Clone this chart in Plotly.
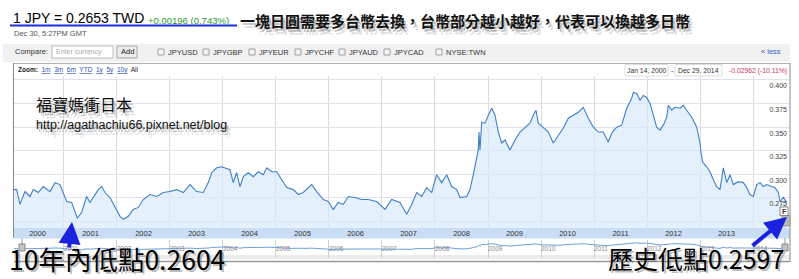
import plotly.graph_objects as go

# ---------------- data ----------------
years = [2000.057, 2000.108, 2000.170, 2000.264, 2000.358, 2000.421, 2000.515, 2000.609, 2000.736, 2000.830,
         2000.925, 2000.987, 2001.051, 2001.145, 2001.208, 2001.251, 2001.334, 2001.428, 2001.491, 2001.585,
         2001.647, 2001.711, 2001.774, 2001.868, 2001.962, 2002.057, 2002.119, 2002.213, 2002.308, 2002.402,
         2002.496, 2002.623, 2002.749, 2002.874, 2003.000, 2003.126, 2003.251, 2003.377, 2003.504, 2003.628,
         2003.723, 2003.787, 2003.881, 2003.975, 2004.132, 2004.194, 2004.258, 2004.321, 2004.383, 2004.477,
         2004.572, 2004.666, 2004.760, 2004.825, 2004.919, 2005.013, 2005.108, 2005.202, 2005.326, 2005.421,
         2005.515, 2005.609, 2005.674, 2005.768, 2005.892, 2005.987, 2006.081, 2006.175, 2006.270, 2006.364,
         2006.491, 2006.617, 2006.742, 2006.900, 2007.057, 2007.183, 2007.308, 2007.340, 2007.466, 2007.560,
         2007.655, 2007.749, 2007.843, 2007.938, 2008.032, 2008.126, 2008.221, 2008.315, 2008.409, 2008.472,
         2008.598, 2008.660, 2008.723, 2008.787, 2008.817, 2008.830, 2008.849, 2008.881, 2008.943, 2009.006,
         2009.070, 2009.132, 2009.194, 2009.258, 2009.321, 2009.415, 2009.509, 2009.604, 2009.698, 2009.792,
         2009.855, 2009.906, 2009.949, 2010.043, 2010.138, 2010.232, 2010.326, 2010.421, 2010.515, 2010.609,
         2010.704, 2010.798, 2010.892, 2010.987, 2011.081, 2011.175, 2011.270, 2011.334, 2011.428, 2011.523,
         2011.617, 2011.711, 2011.742, 2011.806, 2011.868, 2011.930, 2011.994, 2012.057, 2012.119, 2012.183,
         2012.245, 2012.308, 2012.372, 2012.402, 2012.466, 2012.528, 2012.623, 2012.685, 2012.749, 2012.843,
         2012.938, 2013.000, 2013.019, 2013.047, 2013.126, 2013.189, 2013.251, 2013.315, 2013.377, 2013.440,
         2013.504, 2013.566, 2013.628, 2013.723, 2013.817, 2013.881, 2013.943, 2014.006, 2014.070, 2014.132,
         2014.194, 2014.258, 2014.353, 2014.415, 2014.477, 2014.509, 2014.572, 2014.636]

rates = [0.2902, 0.2902, 0.2745, 0.2881, 0.2829, 0.2902, 0.2871, 0.2934, 0.2881, 0.2976,
         0.2955, 0.2871, 0.2776, 0.2766, 0.2671, 0.2598, 0.2661, 0.2829, 0.2766, 0.2850,
         0.2902, 0.2934, 0.2871, 0.2818, 0.2724, 0.2619, 0.2587, 0.2619, 0.2692, 0.2713,
         0.2797, 0.2850, 0.2829, 0.2871, 0.2881, 0.2902, 0.2871, 0.2955, 0.2881, 0.2871,
         0.2976, 0.3081, 0.3133, 0.3144, 0.3112, 0.2976, 0.3081, 0.2934, 0.3039, 0.3081,
         0.3039, 0.3091, 0.3060, 0.3133, 0.3091, 0.3091, 0.3007, 0.2923, 0.2902, 0.2850,
         0.2871, 0.2923, 0.2955, 0.2881, 0.2797, 0.2776, 0.2692, 0.2766, 0.2745, 0.2829,
         0.2818, 0.2797, 0.2797, 0.2776, 0.2692, 0.2797, 0.2776, 0.2766, 0.2640, 0.2745,
         0.2871, 0.2829, 0.2923, 0.2871, 0.3060, 0.2976, 0.3060, 0.2934, 0.2902, 0.2818,
         0.2829, 0.2902, 0.3060, 0.3217, 0.3322, 0.3512, 0.3322, 0.3617, 0.3606, 0.3690,
         0.3764, 0.3690, 0.3512, 0.3396, 0.3428, 0.3322, 0.3428, 0.3512, 0.3564, 0.3606,
         0.3690, 0.3743, 0.3606, 0.3564, 0.3512, 0.3396, 0.3480, 0.3554, 0.3659, 0.3690,
         0.3722, 0.3774, 0.3659, 0.3564, 0.3512, 0.3512, 0.3407, 0.3501, 0.3564, 0.3585,
         0.3764, 0.3869, 0.3932, 0.3921, 0.3848, 0.3900, 0.3879, 0.3816, 0.3690, 0.3564,
         0.3533, 0.3585, 0.3669, 0.3795, 0.3743, 0.3774, 0.3764, 0.3795, 0.3743, 0.3669,
         0.3564, 0.3396, 0.3301, 0.3196, 0.3144, 0.3091, 0.3007, 0.2934, 0.2902, 0.3133,
         0.2976, 0.3060, 0.2955, 0.2986, 0.2976, 0.2923, 0.2850, 0.2829, 0.2955, 0.2976,
         0.2934, 0.2955, 0.2934, 0.2923, 0.2871, 0.2776, 0.2818, 0.2766]

year_labels = [str(y) for y in range(2000, 2015)]
y_ticks = [0.275, 0.300, 0.325, 0.350, 0.375, 0.400]
y_tick_text = ["0.275", "0.300", "0.325", "0.350", "0.375", "0.400"]
compare_items = ["JPYUSD", "JPYGBP", "JPYEUR", "JPYCHF", "JPYAUD", "JPYCAD", "NYSE:TWN"]

# ---------------- layout helpers (pixel -> paper) ----------------
W, H = 799, 279
L, R, T, B = 14, 9, 76, 17
PW, PH = W - L - R, H - T - B
BOTTOM = H - B


def px(x):
    return (x - L) / PW


def py(y):
    return (BOTTOM - y) / PH


SANS = "Liberation Sans, Arial, sans-serif"
CJK = "Noto Sans CJK TC, Noto Sans CJK SC, sans-serif"

annotations = []
shapes = []


def txt(x, y, s, size, color="#000", family=SANS, anchor="left", shadow=None):
    if shadow:
        for dx, dy, a in shadow:
            annotations.append(dict(x=px(x + dx), y=py(y + dy), xref="paper", yref="paper", text=s,
                                    showarrow=False, xanchor=anchor, yanchor="middle", borderpad=0,
                                    font=dict(size=size, color=f"rgba(60,60,60,{a})", family=family)))
    annotations.append(dict(x=px(x), y=py(y), xref="paper", yref="paper", text=s, showarrow=False,
                            xanchor=anchor, yanchor="middle", borderpad=0,
                            font=dict(size=size, color=color, family=family)))


def rect(x0, y0, x1, y1, fill=None, line=None, lw=1, layer="above"):
    shapes.append(dict(type="rect", xref="paper", yref="paper", x0=px(x0), x1=px(x1), y0=py(y1), y1=py(y0),
                       fillcolor=fill if fill else "rgba(0,0,0,0)",
                       line=dict(color=line if line else "rgba(0,0,0,0)", width=lw if line else 0),
                       layer=layer))


def hline(x0, x1, y, color, w=1):
    shapes.append(dict(type="line", xref="paper", yref="paper", x0=px(x0), x1=px(x1), y0=py(y), y1=py(y),
                       line=dict(color=color, width=w)))


def vline(x, y0, y1, color, w=1):
    shapes.append(dict(type="line", xref="paper", yref="paper", x0=px(x), x1=px(x), y0=py(y0), y1=py(y1),
                       line=dict(color=color, width=w)))


SH_SMALL = [(2, 3, 0.3), (4, 6, 0.16)]
SH_BIG = [(2, 2, 0.35)]

# ---------------- header ----------------
txt(12, 18, "1 JPY = 0.2653 TWD", 14, "#000")
txt(147, 20, "+0.00196 (0.743%)", 9.5, "#2e9a2e")
hline(10, 237, 25.5, "#1c2fe0", 2)
txt(239, 20, "<b>一塊日圓需要多台幣去換，台幣部分越小越好，代表可以換越多日幣</b>", 15, "#111", CJK,
    shadow=SH_SMALL)
txt(13, 33, "Dec 30, 5:27PM GMT", 7.5, "#555")

# compare row
rect(3, 44, 790, 62, fill="#f1f1f1", layer="below")
txt(14, 52, "Compare:", 7.5, "#333")
rect(52, 46, 113, 58, fill="#fff", line="#bdbdbd")
txt(55, 52, "Enter currency", 7, "#aaa")
rect(117, 46, 137, 58, fill="#ececec", line="#a8a8a8")
txt(127, 52, "Add", 7.5, "#222", anchor="center")
box_x = [158, 203, 249, 295, 339, 384, 436]
for bx, name in zip(box_x, compare_items):
    rect(bx, 49, bx + 6, 55, fill="#f4f4f4", line="#a0a0a0")
    txt(bx + 9, 52.5, name, 7.5, "#333")
txt(782, 52, "« less", 7.5, "#3a62c0", anchor="right")

# chart frame
hline(13, 790, 63.5, "#b0b0b0")
vline(13.5, 63, 238, "#8a8a8a")
vline(790, 63, 262, "#8a8a8a")

txt(17, 70, '<b>Zoom:</b>  <span style="color:#2a55b8"><u>1m</u>  <u>3m</u>  <u>6m</u>  <u>YTD</u>  '
            '<u>1y</u>  <u>5y</u>  <u>10y</u></span>  All', 6.5, "#222")
rect(625, 64.5, 668, 76, fill="#fff", line="#dddddd")
rect(675, 64.5, 722, 76, fill="#fff", line="#dddddd")
txt(646.5, 70.5, "Jan 14, 2000", 6.8, "#333", anchor="center")
txt(671.5, 70.5, "-", 6.8, "#333", anchor="center")
txt(698.5, 70.5, "Dec 29, 2014", 6.8, "#333", anchor="center")
txt(788, 70.5, "-0.02962 (-10.11%)", 6.8, "#c8336a", anchor="right")

# watermark
txt(35, 104, "福寶媽衝日本", 16, "#111", CJK, shadow=SH_SMALL)
txt(35, 125, "http://agathachiu66.pixnet.net/blog", 12.5, "#111", SANS, shadow=SH_SMALL)

# year band and navigator decorations
rect(14, 228, 790, 238.5, fill="#c9ddf5", layer="below")
rect(14, 255, 790, 259, fill="#ececec", layer="below")
hline(14, 790, 261.5, "#9a9a9a", 1.5)
vline(22, 238, 245, "#999")
rect(19, 244, 25, 251, fill="#c4c4c4", line="#8a8a8a")
vline(785, 238, 245, "#999")
rect(782, 244, 788, 251, fill="#c4c4c4", line="#8a8a8a")
rect(782, 215, 790, 226, fill="#b8b8b8", line="#9a9a9a")
rect(780, 207, 788, 215.5, fill="#ffffff", line="#888")
txt(784, 211.5, "<b>F</b>", 7, "#333", anchor="center")

# big labels + arrows
txt(8, 258, "10年內低點0.2604", 26.5, "#000", CJK, shadow=SH_BIG)
txt(607, 258, "歷史低點0.2597", 25, "#000", CJK, shadow=SH_BIG)
annotations.append(dict(x=px(72), y=py(222), xref="paper", yref="paper", ax=-3, ay=27, axref="pixel",
                        ayref="pixel", showarrow=True, arrowhead=2, arrowsize=1.1, arrowwidth=4,
                        arrowcolor="#1a22e0", text=""))
annotations.append(dict(x=px(787), y=py(217), xref="paper", yref="paper", ax=-36, ay=30, axref="pixel",
                        ayref="pixel", showarrow=True, arrowhead=2, arrowsize=1.1, arrowwidth=4,
                        arrowcolor="#1a22e0", text=""))

# ---------------- traces ----------------
fig = go.Figure()
fig.add_trace(go.Scatter(x=years, y=rates, mode="lines", line=dict(color="#3f7fc8", width=1.1),
                         fill="tozeroy", fillcolor="rgba(214,233,250,0.65)", hoverinfo="x+y",
                         xaxis="x", yaxis="y", showlegend=False))
fig.add_trace(go.Scatter(x=years, y=rates, mode="lines", line=dict(color="#6d9fdc", width=1),
                         hoverinfo="skip", xaxis="x2", yaxis="y2", showlegend=False))

xr = [2000.057, 2014.698]
fig.update_layout(
    width=W, height=H, margin=dict(l=L, r=R, t=T, b=B, pad=0),
    paper_bgcolor="#ffffff", plot_bgcolor="rgba(0,0,0,0)",
    showlegend=False, hovermode="closest",
    xaxis=dict(domain=[0, 1], range=xr, anchor="y", tickmode="array",
               tickvals=[y + 0.5 for y in range(2000, 2015)], ticktext=year_labels,
               ticks="", showgrid=False, zeroline=False, showline=False,
               tickfont=dict(size=7.5, color="#333", family=SANS), ticklabelstandoff=-1,
               minor=dict(tick0=2001, dtick=1, showgrid=True, gridcolor="#dcdcdc", gridwidth=1, ticks="")),
    yaxis=dict(domain=[py(228), 1], range=[0.2495, 0.4106], anchor="x", side="right",
               tickmode="array", tickvals=y_ticks, ticktext=y_tick_text, ticklabelposition="inside",
               ticks="", showgrid=False, zeroline=False, showline=False,
               tickfont=dict(size=7, color="#444", family=SANS),
               minor=dict(tick0=0.2564, dtick=0.025, showgrid=True, gridcolor="#e1e1ee", gridwidth=1,
                          ticks="")),
    xaxis2=dict(domain=[0, 1], range=xr, anchor="y2", tickmode="array",
                tickvals=list(range(2001, 2015)), ticktext=year_labels[1:],
                ticks="", showgrid=True, gridcolor="#d0d0d0", zeroline=False, showline=False,
                ticklabelposition="inside right", tickfont=dict(size=6.5, color="#8a8a8a", family=SANS)),
    yaxis2=dict(domain=[py(258), py(240)], range=[0.113, 0.446], anchor="x2", visible=False),
    annotations=annotations, shapes=shapes,
)

fig.write_html("out.html")
